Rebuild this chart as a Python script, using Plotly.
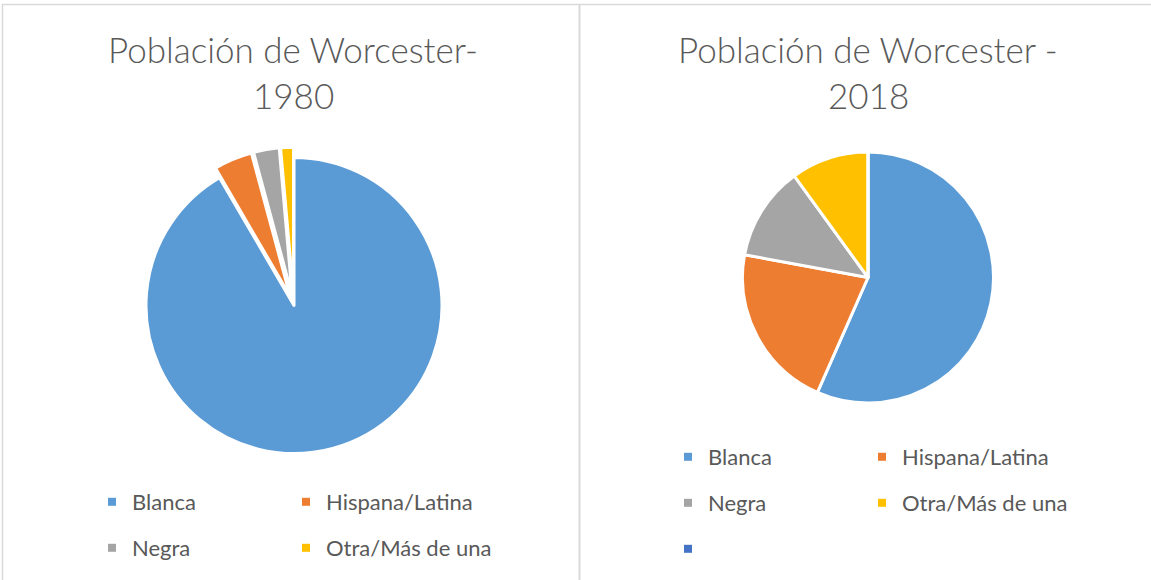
import plotly.graph_objects as go

# ---- data ----
categories_1980 = ["Blanca", "Hispana/Latina", "Negra", "Otra/Más de una"]
values_1980 = [91.6, 4.2, 2.8, 1.4]
pull_1980 = [0, 0.07, 0.07, 0.07]

categories_2018 = ["Blanca", "Hispana/Latina", "Negra", "Otra/Más de una", ""]
values_2018 = [56.6, 21.3, 12.1, 10.0, 0]

title_1980 = ["Población de Worcester-", "1980"]
title_2018 = ["Población de Worcester -", "2018"]

colors = ["#5B9BD5", "#ED7D31", "#A5A5A5", "#FFC000", "#4472C4"]

W, H = 1151, 580
FONT = "Lato, Carlito, Calibri, sans-serif"
TXT = "#595959"
LEG_FS = 22
ROW = 46  # px between legend rows


def px_x(x):
    return x / W


def px_y(y):
    return 1 - y / H


fig = go.Figure()

# left pie: center (294,305.5), r 148, max pull 0.07
r1, cx1, cy1, mp = 148, 294, 305.5, max(pull_1980)
half1 = r1 * (1 + mp)
fig.add_trace(go.Pie(
    labels=categories_1980,
    values=values_1980,
    pull=pull_1980,
    sort=False, direction="clockwise", rotation=0,
    textinfo="none", showlegend=False,
    marker=dict(colors=colors[:4], line=dict(color="white", width=3)),
    domain=dict(x=[px_x(cx1 - half1), px_x(cx1 + half1)],
                y=[px_y(cy1 + half1), px_y(cy1 - half1)]),
))

# right pie: center (868,277.5), r 125.5
r2, cx2, cy2 = 125.5, 868, 277.5
fig.add_trace(go.Pie(
    labels=[c if c else "\u200b" for c in categories_2018],
    values=values_2018,
    sort=False, direction="clockwise", rotation=0,
    textinfo="none", showlegend=False,
    marker=dict(colors=colors, line=dict(color="white", width=3)),
    domain=dict(x=[px_x(cx2 - r2), px_x(cx2 + r2)],
                y=[px_y(cy2 + r2), px_y(cy2 - r2)]),
))

# legend entries (two columns per chart, filled row by row like Excel)
legend_cfg = {}
charts = [
    (categories_1980, "a", 92, 481),
    (categories_2018, "b", 668, 436),
]
leg_n = 0
for cats, key, left, top in charts:
    for col in range(2):
        leg_n += 1
        lid = "legend" if leg_n == 1 else f"legend{leg_n}"
        legend_cfg[lid] = dict(
            x=px_x(left + 194 * col), y=px_y(top),
            xanchor="left", yanchor="top", orientation="v",
            traceorder="grouped", tracegroupgap=ROW - 31.6,
            font=dict(family=FONT, size=LEG_FS, color=TXT),
            bgcolor="rgba(0,0,0,0)", borderwidth=0,
        )
        for i in range(col, len(cats), 2):
            fig.add_trace(go.Scatter(
                x=[None], y=[None], mode="markers",
                marker=dict(symbol="square", size=8, color=colors[i]),
                name=cats[i] if cats[i] else "\u200b",
                legend=lid, legendgroup=f"{key}{i}", showlegend=True,
                hoverinfo="skip",
            ))

fig.update_layout(
    width=W, height=H,
    margin=dict(l=0, r=0, t=0, b=0, autoexpand=False),
    paper_bgcolor="white", plot_bgcolor="white",
    xaxis=dict(visible=False), yaxis=dict(visible=False),
    **legend_cfg,
)

# titles
for lines, cx in ((title_1980, 293), (title_2018, 868)):
    for i, t in enumerate(lines):
        fig.add_annotation(
            text=t, x=px_x(cx), y=px_y(49 + 46 * i),
            xref="paper", yref="paper", xanchor="center", yanchor="middle",
            showarrow=False,
            font=dict(family=FONT, size=35, color=TXT, weight=300),
        )

# chart borders
border = dict(color="#D9D9D9", width=1.5)
fig.add_shape(type="line", xref="paper", yref="paper",
              x0=px_x(2), x1=1, y0=px_y(4.5), y1=px_y(4.5), line=border)
fig.add_shape(type="line", xref="paper", yref="paper",
              x0=px_x(2.5), x1=px_x(2.5), y0=px_y(4), y1=0, line=border)
fig.add_shape(type="line", xref="paper", yref="paper",
              x0=px_x(579.5), x1=px_x(579.5), y0=px_y(4), y1=0,
              line=dict(color="#D9D9D9", width=2))

fig.write_html("out.html")
